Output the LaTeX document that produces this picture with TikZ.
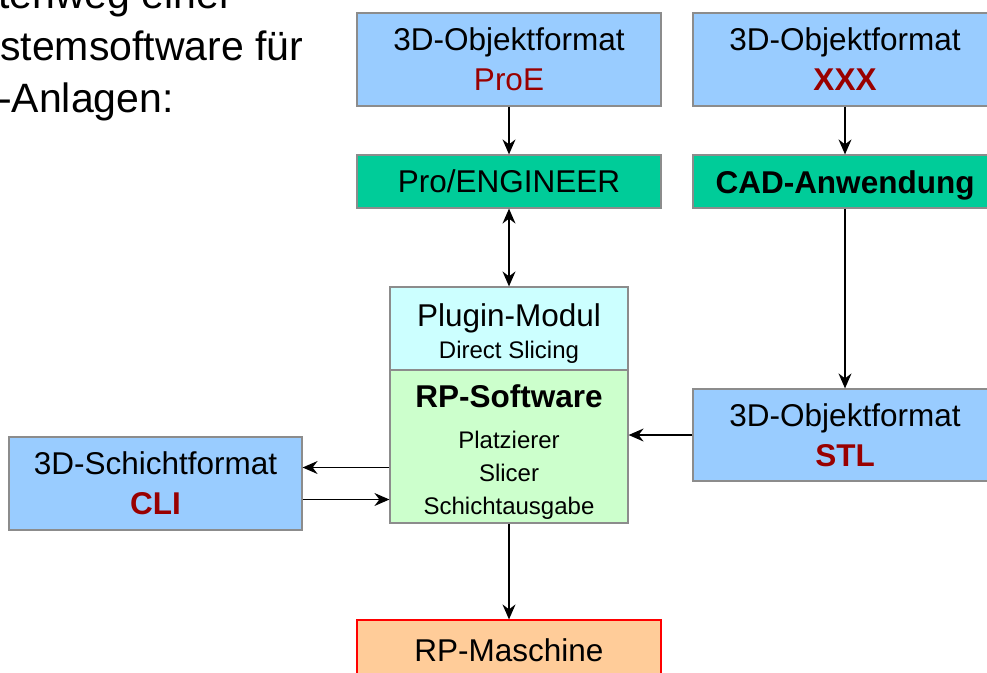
\documentclass[tikz,border=0pt]{standalone}
\usepackage{fontspec}
\setmainfont{Liberation Sans}
\usepackage{tikz}
\usetikzlibrary{arrows.meta}
\definecolor{ObjBlau}{HTML}{99CCFF}
\definecolor{AppGruen}{HTML}{00CC99}
\definecolor{PlugCyan}{HTML}{CCFFFF}
\definecolor{SoftGruen}{HTML}{CCFFCC}
\definecolor{MaschOrange}{HTML}{FFCC99}
\definecolor{DunkelRot}{HTML}{990000}
\definecolor{RandGrau}{HTML}{8C8C8C}
\newcommand{\kleintext}[1]{{\fontsize{24}{30}\selectfont #1}}

\begin{document}
\begin{tikzpicture}[x=1pt,y=-1pt]
	\tikzset{
		box/.style={rectangle, draw=RandGrau, line width=1.2pt, inner sep=0pt,
			align=center, font=\fontsize{31.5}{40}\selectfont},
		obj/.style={box, fill=ObjBlau, minimum width=304pt, minimum height=93pt},
		app/.style={box, fill=AppGruen, minimum width=304pt, minimum height=53pt},
		kopf/.style={anchor=base west, inner sep=0pt, font=\fontsize{41}{52}\selectfont},
		pfeil/.style={-{Stealth[length=15pt,width=13pt,inset=5pt]}, line width=1.3pt},
		dpfeil/.style={{Stealth[length=15pt,width=13pt,inset=5pt]}-{Stealth[length=15pt,width=13pt,inset=5pt]}, line width=1.3pt}
	}
	\useasboundingbox (0,0) rectangle (987,672);
	\clip (0,0) rectangle (987,672);
	
	% heading (cut off at the left)
	\node[kopf] (k1) at (-2,8) {tenweg einer};
	\node[kopf] (k2) at (0,60) {stemsoftware für};
	\node[kopf] (k3) at (-2,112) {-Anlagen:};
	
	\node[obj] (proe) at (509,59.5) {3D-Objektformat\\\textcolor{DunkelRot}{ProE}};
	\node[obj] (xxx) at (845,59.5) {3D-Objektformat\\\textcolor{DunkelRot}{\textbf{XXX}}};
	\node[app] (proeng) at (509,181.5) {Pro/ENGINEER};
	\node[app] (cad) at (845,181.5) {\rule{0pt}{31pt}\textbf{CAD-Anwendung}};
	
	\node[box, fill=PlugCyan, minimum width=238pt, minimum height=83pt] (plugin) at (509,328.5)
		{\rule{0pt}{33pt}Plugin-Modul\\[-8pt]\kleintext{Direct Slicing}};
	\node[box, fill=SoftGruen, minimum width=238pt, minimum height=153pt] (rpsw) at (509,446.5)
		{\rule{0pt}{33pt}\textbf{RP-Software}\\[1pt]\kleintext{Platzierer}\\[-7pt]\kleintext{Slicer}\\[-7pt]\kleintext{Schichtausgabe}};
	
	\node[obj, minimum height=92pt] (stl) at (845,435) {3D-Objektformat\\\textcolor{DunkelRot}{\textbf{STL}}};
	\node[obj, minimum width=293pt] (cli) at (155.5,483.5) {3D-Schichtformat\\\textcolor{DunkelRot}{\textbf{CLI}}};
	\node[box, draw=red, fill=MaschOrange, minimum width=304pt, minimum height=60pt] (rpm) at (509,650) {RP-Maschine};
	
	% connectors
	\draw[pfeil] (proe) -- (proeng);
	\draw[pfeil] (xxx) -- (cad);
	\draw[dpfeil] (proeng) -- (plugin);
	\draw[pfeil] (cad) -- (stl);
	\draw[pfeil] (stl.west) -- (stl.west -| rpsw.east);
	\draw[pfeil] ([yshift=16pt]cli.east -| rpsw.west) -- ([yshift=16pt]cli.east);
	\draw[pfeil] ([yshift=-16pt]cli.east) -- ([yshift=-16pt]cli.east -| rpsw.west);
	\draw[pfeil] (rpsw) -- (rpm);
\end{tikzpicture}
\end{document}
